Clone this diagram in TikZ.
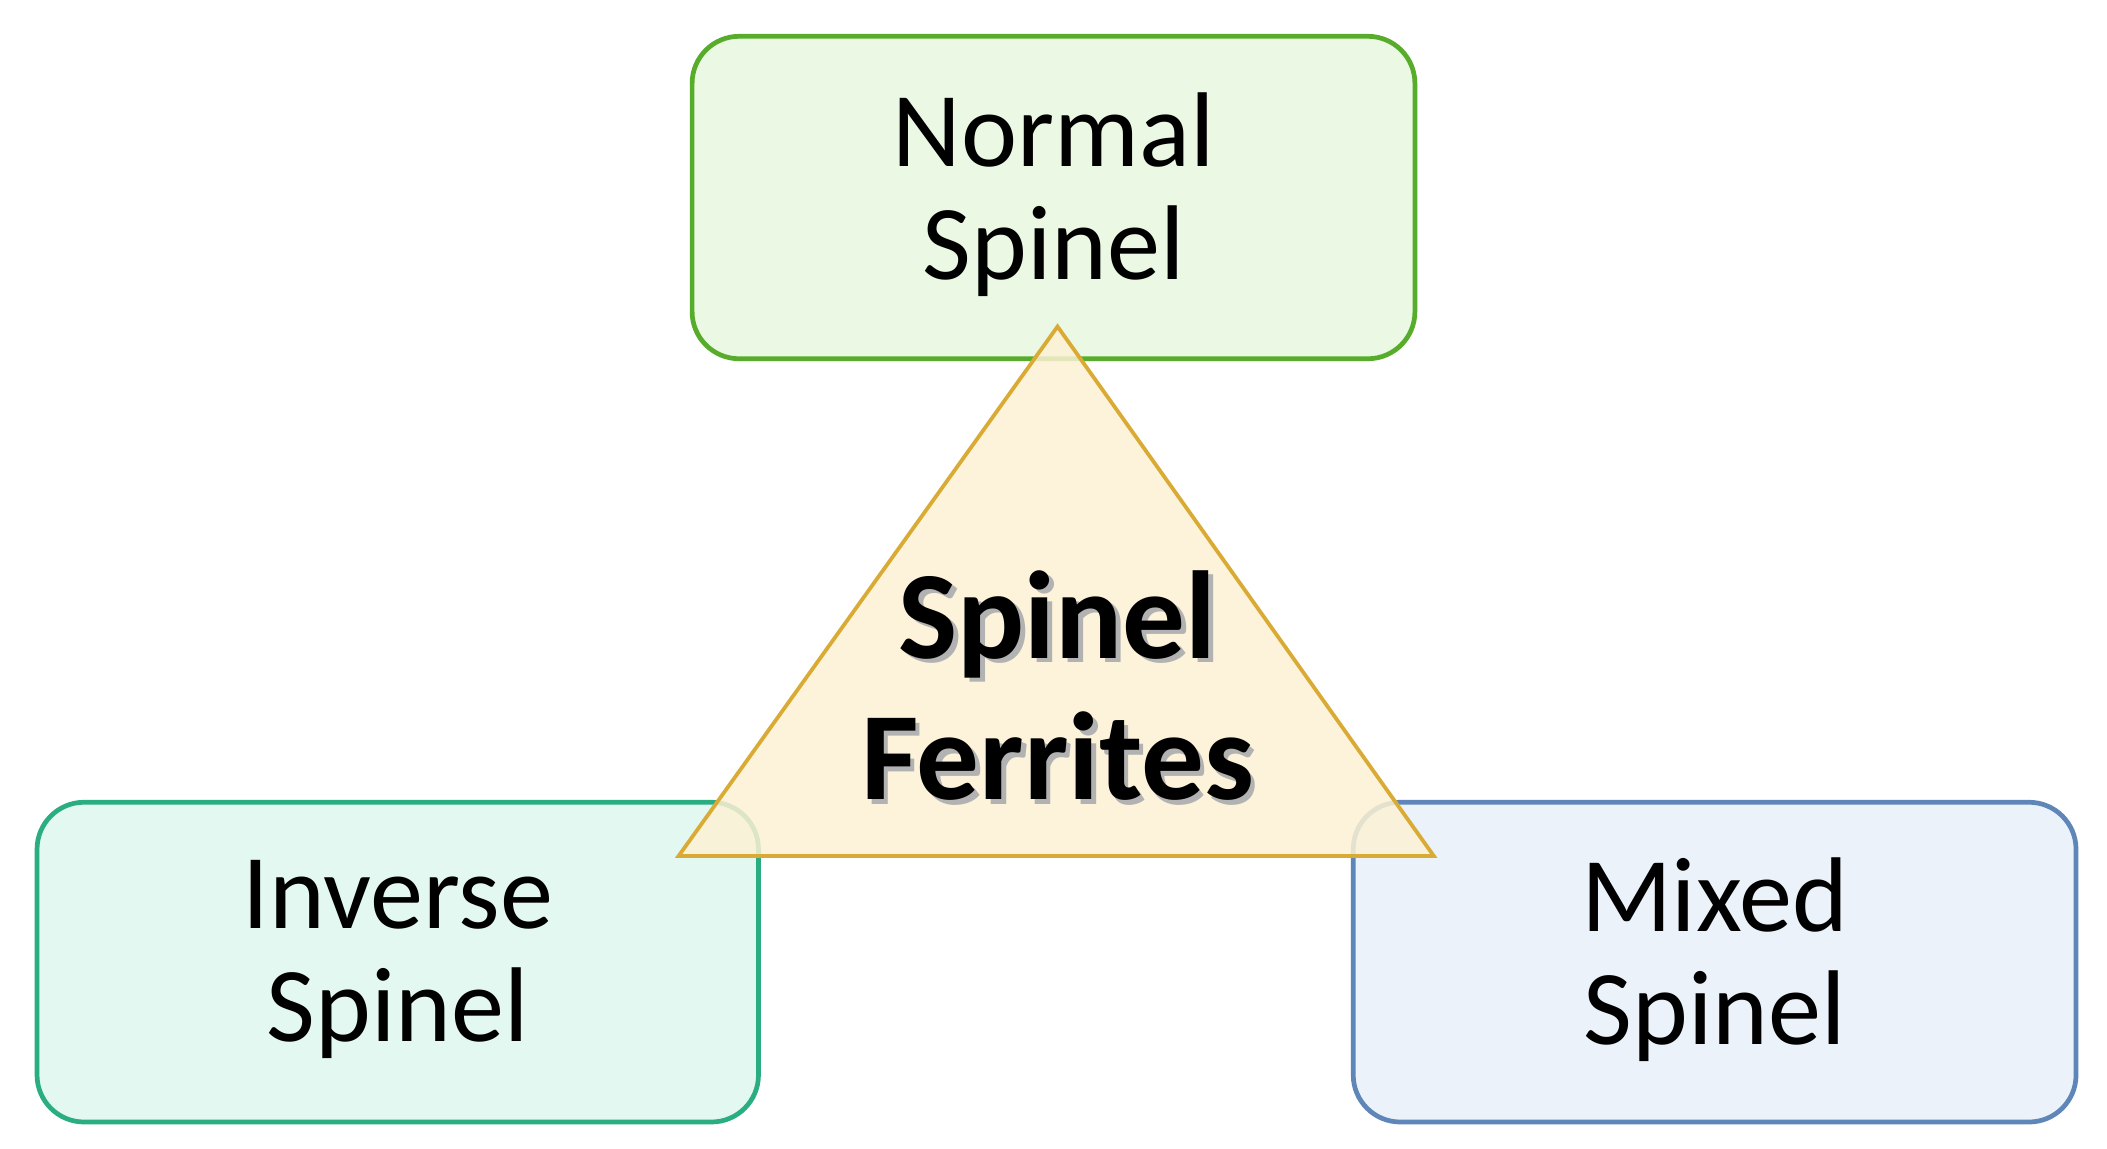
\documentclass[tikz,border=0pt]{standalone}
\usepackage{fontspec}
\setmainfont{Carlito}
\begin{document}
\begin{tikzpicture}[x=0.02cm,y=-0.02cm,
  box/.style={draw=#1!85!black,line width=2pt,rounded corners=0.7cm,fill=#1!13,inner sep=0pt},
  lbl/.style={font=\fontsize{45}{54}\selectfont,align=center}]
\useasboundingbox (0,0) rectangle (1568,855);
\fill[white] (0,0) rectangle (1568,855);
\definecolor{gN}{HTML}{66CC33}
\definecolor{gI}{HTML}{33CC99}
\definecolor{bM}{HTML}{6F9ED8}
\definecolor{tri}{HTML}{F2BE3A}
\node[box=gN,minimum width=10.76cm,minimum height=4.8cm] (normal) at (784,147) {};
\node[box=gI,minimum width=10.74cm,minimum height=4.76cm] (inverse) at (296,716) {};
\node[box=bM,minimum width=10.76cm,minimum height=4.76cm] (mixed) at (1276,716) {};
\draw[draw=tri!90!black,line width=1.6pt,fill=tri!22,fill opacity=0.85,line join=miter]
  (787,243) coordinate (apex) -- (505,637) coordinate (bl) -- (1067,637) coordinate (br) -- cycle;
\node[lbl] (tn) at (784,145) {Normal\\[-6pt]Spinel};
\node[lbl] (ti) at (296,714) {Inverse\\[-6pt]Spinel};
\node[lbl] (tm) at (1276,714) {Mixed\\[-6pt]Spinel};
\node[lbl,font=\fontsize{53}{64}\bfseries\selectfont,align=center] (center) at (787,512)
  {\makebox[0pt][l]{\hspace{2pt}\raisebox{-2pt}{\textcolor{black!30}{Spinel}}}Spinel\\[-4pt]\makebox[0pt][l]{\hspace{2pt}\raisebox{-2pt}{\textcolor{black!30}{Ferrites}}}Ferrites};
\end{tikzpicture}
\end{document}
